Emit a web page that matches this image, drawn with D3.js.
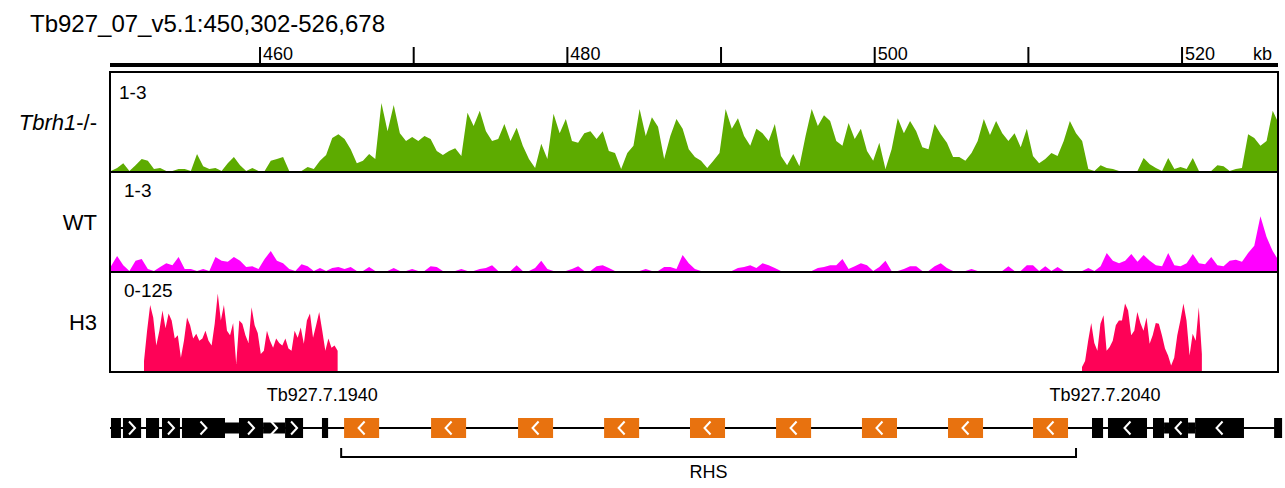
<!DOCTYPE html>
<html>
<head>
<meta charset="utf-8">
<script src="https://cdn.jsdelivr.net/npm/d3@7"></script>
<style>
  body { margin: 0; background: #fff; }
  svg { display: block; font-family: "Liberation Sans", Arial, sans-serif; }
</style>
</head>
<body>
<div class="view"></div>
<script>
const locus = 'Tb927_07_v5.1:450,302-526,678'
const viewKb = [450.302, 526.678]
const rulerTicks = [460, 470, 480, 490, 500, 510, 520]
const rulerLabels = [460, 480, 500, 520]

const trackNames = ['Tbrh1', 'WT', 'H3']
const trackRanges = ['1-3', '1-3', '0-125']

// coverage in 0.4 kb bins from 450.3 kb
const binStart = 450.3
const binKb = 0.4
const tbrh1Cov = [
  1, 1.06, 1.16, 1, 1.12, 1.25, 1.21, 1.04, 1.06, 1,
  1, 1.04, 1.04, 1, 1.35, 1.10, 1.04, 1.06, 1, 1.16,
  1.29, 1.12, 1, 1.06, 1, 1, 1.21, 1.25, 1.29, 1,
  1, 1, 1.08, 1.04, 1.21, 1.33, 1.68, 1.76, 1.66, 1.45,
  1.16, 1.21, 1.35, 1.25, 2.40, 1.82, 2.36, 1.78, 1.62, 1.70,
  1.62, 1.72, 1.66, 1.41, 1.33, 1.41, 1.47, 1.31, 2.20, 1.93,
  2.24, 1.82, 1.62, 1.66, 1.97, 1.62, 1.89, 1.52, 1.25, 1.06,
  1.56, 1.25, 2.18, 1.78, 2.07, 1.62, 1.58, 1.78, 1.82, 1.66,
  1.82, 1.41, 1.37, 1.04, 1.37, 1.52, 2.28, 1.72, 2.11, 1.91,
  1.25, 1.72, 2.07, 1.87, 1.45, 1.29, 1.21, 1.06, 1.21, 1.37,
  2.28, 1.87, 2.09, 1.72, 1.52, 1.87, 1.78, 1.62, 1.97, 1.31,
  1.12, 1.35, 1.10, 1.72, 2.28, 1.93, 2.15, 2.03, 1.62, 1.52,
  1.99, 1.66, 1.87, 1.41, 1.21, 1.58, 1.04, 1.45, 2.09, 1.78,
  2.03, 1.82, 1.49, 1.45, 1.97, 1.76, 1.58, 1.29, 1.29, 1.21,
  1.37, 1.62, 2.07, 1.74, 2.03, 1.78, 1.62, 1.78, 1.49, 1.87,
  1.31, 1.16, 1.25, 1.37, 1.31, 1.62, 2.03, 1.78, 1.62, 1.04,
  1, 1.12, 1.06, 1.04, 1, 1, 1, 1, 1.27, 1.14,
  1.06, 1, 1.27, 1.04, 1.08, 1.04, 1.27, 1, 1, 1,
  1.12, 1.10, 1, 1.04, 1.06, 1.76, 1.68, 1.52, 1.62, 2.24, 1.97
]
const wtCov = [
  1.10, 1.31, 1.12, 1, 1.21, 1.25, 1.04, 1, 1.08, 1.16,
  1.12, 1.29, 1.04, 1.04, 1, 1.04, 1, 1.29, 1.21, 1.19,
  1.29, 1.21, 1.08, 1.10, 1.04, 1.25, 1.41, 1.21, 1.16, 1.04,
  1, 1.14, 1.10, 1, 1.06, 1, 1.06, 1.08, 1.04, 1.08,
  1, 1, 1.08, 1, 1, 1, 1.06, 1, 1, 1.04,
  1, 1, 1.10, 1.08, 1, 1, 1, 1.04, 1, 1,
  1.04, 1.06, 1.12, 1, 1, 1, 1.12, 1, 1, 1.06,
  1.21, 1.04, 1, 1, 1, 1.04, 1.10, 1, 1, 1.10,
  1.12, 1.06, 1, 1, 1, 1, 1, 1.04, 1, 1,
  1.08, 1.08, 1.04, 1.33, 1.16, 1.04, 1, 1, 1, 1,
  1, 1, 1.06, 1.08, 1.12, 1.06, 1.16, 1.12, 1.06, 1,
  1, 1, 1, 1, 1, 1.06, 1.08, 1.12, 1.12, 1.25,
  1.04, 1.10, 1.16, 1.12, 1, 1.08, 1.21, 1, 1, 1.04,
  1.10, 1.10, 1, 1, 1.10, 1.16, 1.06, 1, 1, 1,
  1.04, 1, 1, 1, 1, 1, 1.10, 1, 1, 1.12,
  1.12, 1, 1.10, 1, 1.08, 1, 1, 1, 1, 1.06,
  1, 1.10, 1.37, 1.21, 1.16, 1.21, 1.35, 1.19, 1.33, 1.21,
  1.12, 1.10, 1.37, 1.12, 1.10, 1.16, 1.35, 1.16, 1.14, 1.29,
  1.12, 1.10, 1.21, 1.23, 1.19, 1.37, 1.52, 2.13, 1.70, 1.41, 1.21
]

// H3 only covers two blocks, 0.2 kb bins
const h3Bin = 0.2
const h3LeftStart = 452.45
const h3Left = [
  13, 52, 85, 69, 33, 52, 78, 55, 74, 65,
  42, 46, 17, 39, 69, 59, 42, 48, 39, 42,
  52, 39, 33, 61, 100, 65, 85, 52, 46, 62,
  9, 65, 61, 46, 36, 82, 59, 49, 22, 26,
  52, 39, 30, 42, 36, 33, 42, 29, 26, 52,
  43, 56, 35, 65, 74, 43, 59, 76, 52, 26,
  42, 30, 33, 26
]
const h3RightStart = 513.49
const h3Right = [
  5, 13, 39, 62, 36, 26, 61, 72, 26, 31,
  39, 59, 65, 65, 87, 78, 46, 52, 76, 62,
  52, 69, 35, 46, 62, 61, 46, 29, 20, 7,
  17, 46, 65, 87, 65, 20, 48, 39, 82, 22
]

// gene features (kb)
const plusExons = [[450.30, 450.95], [451.08, 452.26], [452.58, 453.43], [453.62, 454.79],
  [454.92, 457.72], [458.63, 460.20], [461.63, 462.80], [464.03, 464.43]]
const plusUtr = [[457.72, 458.63], [460.20, 461.63]]
const minusExons = [[514.14, 514.86], [515.18, 517.72], [518.11, 518.83], [519.15, 520.39],
  [520.85, 524.03], [525.99, 526.51]]
const minusUtr = [[518.83, 519.15], [520.39, 520.85]]
const rhsStarts = [465.47, 471.13, 476.79, 482.39, 487.98, 493.58, 499.17, 504.77, 510.30]
const rhsLen = 2.28
const geneNames = ['Tb927.7.1940', 'Tb927.7.2040']
const geneNameKb = [464.05, 514.99]
const rhsSpan = [465.28, 513.10]

const w = 1285
const h = 488
const left = 110
const right = 1278
const panelTop = [72, 172, 272]
const panelH = 100

const svg = d3.select('.view')
  .append('svg')
  .attr('width', w)
  .attr('height', h)

const x = d3.scaleLinear().domain(viewKb).range([111, 111 + (viewKb[1] - viewKb[0]) * 15.367])

// title + ruler
svg.append('text')
  .attr('x', 30).attr('y', 32)
  .attr('font-size', 24)
  .text(locus)

const ruler = svg.append('g')
ruler.append('line')
  .attr('x1', left).attr('x2', right)
  .attr('y1', 65).attr('y2', 65)
  .attr('stroke', '#000').attr('stroke-width', 4)

ruler.selectAll('.tick')
  .data(rulerTicks)
  .enter()
  .append('line')
  .attr('x1', d => x(d)).attr('x2', d => x(d))
  .attr('y1', 47).attr('y2', 65)
  .attr('stroke', '#000').attr('stroke-width', 2)

ruler.selectAll('.lab')
  .data(rulerLabels)
  .enter()
  .append('text')
  .attr('x', d => x(d) + 3)
  .attr('y', 60)
  .attr('font-size', 18)
  .text(d => d)

ruler.append('text')
  .attr('x', 1272).attr('y', 60)
  .attr('text-anchor', 'end')
  .attr('font-size', 18)
  .text('kb')

// tracks
svg.append('clipPath').attr('id', 'clip')
  .append('rect')
  .attr('x', left).attr('y', 0)
  .attr('width', right - left).attr('height', h)

const binned = (vals, start, step) => vals.map((v, i) => ({ kb: start + i * step, v }))

const tracks = [
  { data: [binned(tbrh1Cov, binStart, binKb)], domain: [1, 3], color: '#5dab00' },
  { data: [binned(wtCov, binStart, binKb)], domain: [1, 3], color: '#ff00ff' },
  { data: [binned(h3Left, h3LeftStart, h3Bin), binned(h3Right, h3RightStart, h3Bin)], domain: [0, 125], color: '#fe0257' }
]

tracks.forEach((t, i) => {
  const top = panelTop[i]
  const base = top + panelH - 1
  const y = d3.scaleLinear().domain(t.domain).range([base, top + 2])
  const area = d3.area()
    .x(d => x(d.kb))
    .y0(base)
    .y1(d => y(d.v))

  svg.append('g')
    .attr('clip-path', 'url(#clip)')
    .selectAll('path')
    .data(t.data)
    .enter()
    .append('path')
    .attr('d', area)
    .attr('fill', t.color)

  svg.append('rect')
    .attr('x', left).attr('y', top)
    .attr('width', right - left).attr('height', panelH)
    .attr('fill', 'none')
    .attr('stroke', '#000').attr('stroke-width', 2)

  svg.append('text')
    .attr('x', i == 0 ? 119 : 124)
    .attr('y', top + (i == 0 ? 27 : 25))
    .attr('font-size', 19)
    .text(trackRanges[i])

  const name = svg.append('text')
    .attr('x', 97)
    .attr('y', top + 58)
    .attr('text-anchor', 'end')
    .attr('font-size', 22)
  if (i == 0) {
    name.append('tspan').attr('font-style', 'italic').text(trackNames[i])
    name.append('tspan').text('-/-')
  } else {
    name.text(trackNames[i])
  }
})

// gene track
const gy = 428
const genes = svg.append('g')

genes.append('line')
  .attr('x1', left).attr('x2', 1281)
  .attr('y1', gy).attr('y2', gy)
  .attr('stroke', '#000').attr('stroke-width', 2)

function blocks(list, color, hh) {
  genes.selectAll(null)
    .data(list)
    .enter()
    .append('rect')
    .attr('x', d => x(d[0]))
    .attr('y', gy - hh / 2)
    .attr('width', d => x(d[1]) - x(d[0]))
    .attr('height', hh)
    .attr('fill', color)
}

function chevrons(list, dir) {
  genes.selectAll(null)
    .data(list.filter(d => x(d[1]) - x(d[0]) > 15))
    .enter()
    .append('polyline')
    .attr('points', d => {
      const cx = (x(d[0]) + x(d[1])) / 2
      return [[cx - 3 * dir, gy - 6.5], [cx + 3 * dir, gy], [cx - 3 * dir, gy + 6.5]].join(' ')
    })
    .attr('fill', 'none')
    .attr('stroke', '#fff')
    .attr('stroke-width', 2)
}

const rhs = rhsStarts.map(s => [s, s + rhsLen])

blocks(plusUtr, '#000', 11)
blocks(minusUtr, '#000', 11)
blocks(plusExons, '#000', 20)
blocks(minusExons, '#000', 20)
blocks(rhs, '#e8720f', 20)
chevrons(plusExons.concat(plusUtr), 1)
chevrons(minusExons, -1)
chevrons(rhs, -1)

genes.selectAll('.gname')
  .data(geneNames)
  .enter()
  .append('text')
  .attr('x', (d, i) => x(geneNameKb[i]))
  .attr('y', 401)
  .attr('text-anchor', 'middle')
  .attr('font-size', 18)
  .text(d => d)

// RHS bracket
genes.append('path')
  .attr('d', 'M' + x(rhsSpan[0]) + ',448V457H' + x(rhsSpan[1]) + 'V448')
  .attr('fill', 'none')
  .attr('stroke', '#000').attr('stroke-width', 2)

genes.append('text')
  .attr('x', (x(rhsSpan[0]) + x(rhsSpan[1])) / 2)
  .attr('y', 478)
  .attr('text-anchor', 'middle')
  .attr('font-size', 18)
  .text('RHS')
</script>
</body>
</html>
